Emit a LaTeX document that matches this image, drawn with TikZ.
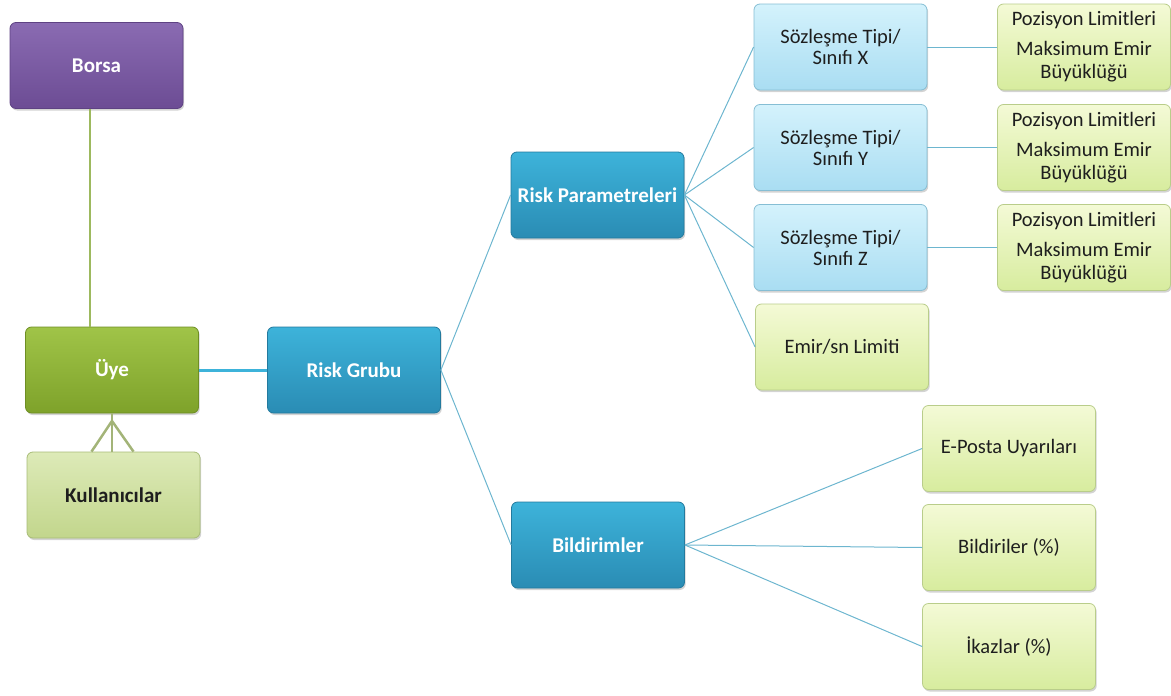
\documentclass[tikz,border=0pt]{standalone}
\usepackage{fontspec}
\setmainfont{Carlito}
\usetikzlibrary{shadows,calc}
\definecolor{purT}{HTML}{8A6BB2}
\definecolor{purB}{HTML}{6C4C94}
\definecolor{purD}{HTML}{5E4283}
\definecolor{grnT}{HTML}{A0C448}
\definecolor{grnB}{HTML}{7EA22A}
\definecolor{grnD}{HTML}{6E8E24}
\definecolor{bluT}{HTML}{3DB3DA}
\definecolor{bluB}{HTML}{2A8CB4}
\definecolor{bluD}{HTML}{237A9E}
\definecolor{lbT}{HTML}{D4F2FC}
\definecolor{lbB}{HTML}{A9DDF2}
\definecolor{lbD}{HTML}{86BED4}
\definecolor{lgT}{HTML}{F4FAD6}
\definecolor{lgB}{HTML}{D7EC9E}
\definecolor{lgD}{HTML}{B9CD8A}
\definecolor{kuT}{HTML}{DDEAB8}
\definecolor{kuB}{HTML}{C2D68C}
\definecolor{kuD}{HTML}{A8BC78}
\definecolor{lineB}{HTML}{6DB6CF}
\definecolor{lineG}{HTML}{9DB95E}
\definecolor{lineK}{HTML}{A3B478}
\definecolor{textD}{HTML}{1E1E1E}
\tikzset{
  box/.style={rounded corners=6pt, minimum width=173pt, minimum height=86pt,
    align=center, line width=0.8pt, inner sep=2pt,
    font=\fontsize{20.5}{23}\selectfont,
    drop shadow={opacity=0.35, shadow xshift=1.2pt, shadow yshift=-2pt}},
  darkbox/.style={box, text=white, font=\fontsize{21}{23}\selectfont\bfseries},
  purbox/.style={darkbox, top color=purT, bottom color=purB, draw=purD},
  grnbox/.style={darkbox, top color=grnT, bottom color=grnB, draw=grnD},
  blubox/.style={darkbox, top color=bluT, bottom color=bluB, draw=bluD},
  kulbox/.style={box, top color=kuT, bottom color=kuB, draw=kuD, text=textD, font=\fontsize{21}{23}\selectfont\bfseries},
  lbbox/.style={box, top color=lbT, bottom color=lbB, draw=lbD, text=textD},
  lgbox/.style={box, top color=lgT, bottom color=lgB, draw=lgD, text=textD},
  conn/.style={draw=lineB, line width=1pt},
}
\begin{document}
\begin{tikzpicture}[x=1pt,y=-1pt]
\useasboundingbox (0,0) rectangle (1171,696);

\coordinate (vx) at (90,0);
\coordinate (apex) at (112,421);

\node[purbox] (borsa) at (96.5,65.5) {Borsa};
\node[grnbox] (uye) at (112,370) {Üye};
\node[kulbox] (kul) at (113.5,495) {Kullanıcılar};
\node[blubox] (rg) at (354,370) {Risk Grubu};
\node[blubox] (rp) at (597.5,195) {Risk Parametreleri};
\node[blubox] (bil) at (598,545) {Bildirimler};

\node[lbbox] (sx) at (840.5,47) {Sözleşme Tipi/\\[-2pt]Sınıfı X};
\node[lbbox] (sy) at (840.5,147.5) {Sözleşme Tipi/\\[-2pt]Sınıfı Y};
\node[lbbox] (sz) at (840.5,247.5) {Sözleşme Tipi/\\[-2pt]Sınıfı Z};
\node[lgbox] (em) at (842,347) {Emir/sn Limiti};

\node[lgbox] (px) at (1084,47) {Pozisyon Limitleri\\[7pt]Maksimum Emir\\Büyüklüğü};
\node[lgbox] (py) at (1084,147.5) {Pozisyon Limitleri\\[7pt]Maksimum Emir\\Büyüklüğü};
\node[lgbox] (pz) at (1084,247.5) {Pozisyon Limitleri\\[7pt]Maksimum Emir\\Büyüklüğü};

\node[lgbox] (ep) at (1009,448.5) {E-Posta Uyarıları};
\node[lgbox] (bd) at (1009,547.5) {Bildiriler (\%)};
\node[lgbox] (ik) at (1009,646.5) {İkazlar (\%)};

\draw[draw=lineG, line width=2.5pt] (borsa.south -| vx) -- (uye.north -| vx);
\draw[draw=lineK, line width=2.5pt] (uye.south) -- (apex);
\draw[draw=lineK, line width=2.5pt] (apex) -- ($(kul.north)+(-22,0)$);
\draw[draw=lineK, line width=2.5pt] (apex) -- (kul.north -| apex);
\draw[draw=lineK, line width=2.5pt] (apex) -- ($(kul.north)+(20,0)$);
\draw[draw=bluT, line width=3pt] (uye.east) -- (rg.west);

\draw[conn] (rg.east) -- (rp.west);
\draw[conn] (rg.east) -- (bil.west);
\draw[conn] (rp.east) -- (sx.west);
\draw[conn] (rp.east) -- (sy.west);
\draw[conn] (rp.east) -- (sz.west);
\draw[conn] (rp.east) -- (em.west);
\draw[conn] (sx.east) -- (px.west);
\draw[conn] (sy.east) -- (py.west);
\draw[conn] (sz.east) -- (pz.west);
\draw[conn] (bil.east) -- (ep.west);
\draw[conn] (bil.east) -- (bd.west);
\draw[conn] (bil.east) -- (ik.west);
\end{tikzpicture}
\end{document}
